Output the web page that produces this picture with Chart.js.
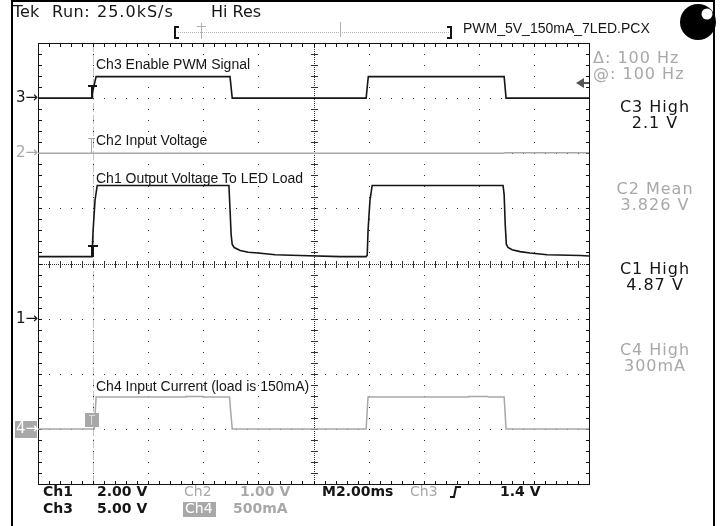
<!DOCTYPE html>
<html>
<head>
<meta charset="utf-8">
<script src="https://cdn.jsdelivr.net/npm/chart.js@4.4.1/dist/chart.umd.min.js"></script>
<style>
  html, body { margin: 0; padding: 0; background: #fff; }
  #scope { display: block; }
</style>
</head>
<body>
<canvas id="scope" width="722" height="526"></canvas>
<script>
// time base: ms from trigger, 2 ms/div, trigger one division from the left edge
const timeMin = -2;
const timeMax = 18;

// channel setup: volts (or amps) per division, ground marker position in divisions, offset
const channelIds = ["y1", "y2", "y3", "y4"];
const perDiv = [2, 1, 5, 0.5];
const groundDiv = [-1, 2, 3, -3];
const offsets = [0, 3.82, 0, 0];

// Ch1 output voltage to LED load (V)
const ch1Time = [-2, -0.07, -0.04, 0.0, 0.07, 0.15, 4.93, 4.97, 5.01, 5.05, 5.12, 5.34, 5.63, 5.99, 6.61, 7.51, 8.97, 9.91,
  9.95, 9.98, 10.05, 10.13, 14.88, 14.92, 14.96, 15.0, 15.06, 15.21, 15.5, 15.86, 16.48, 17.68, 18];
const ch1Volts = [2.25, 2.25, 2.3, 3.2, 4.3, 4.83, 4.83, 3.96, 3.05, 2.69, 2.58, 2.47, 2.41, 2.38, 2.32, 2.29, 2.25, 2.25,
  2.3, 3.2, 4.3, 4.83, 4.83, 4.5, 3.4, 2.7, 2.58, 2.5, 2.43, 2.38, 2.32, 2.29, 2.27];

// Ch2 input voltage (V)
const ch2Time = [-2, 14.9, 14.95, 18];
const ch2Volts = [3.82, 3.82, 3.828, 3.828];

// Ch3 enable PWM signal (V)
const ch3Time = [-2, -0.07, -0.04, 0.04, 0.11, 4.97, 5.05, 9.91, 9.95, 9.99, 14.92, 14.99, 18];
const ch3Volts = [0, 0, 0.3, 1.2, 1.95, 1.95, 0, 0, 1.0, 1.95, 1.95, 0, 0];

// Ch4 input current (A)
const ch4Time = [-2, 0.04, 0.11, 3.34, 3.36, 3.97, 3.99, 4.95, 5.05, 9.91, 9.98, 13.61, 13.63, 14.32, 14.34, 14.92, 14.99, 18];
const ch4Amps = [0, 0, 0.29, 0.29, 0.294, 0.294, 0.29, 0.29, 0, 0, 0.29, 0.29, 0.294, 0.294, 0.29, 0.29, 0, 0];

const traceLabels = ["Ch3 Enable PWM Signal", "Ch2 Input Voltage", "Ch1 Output Voltage To LED Load", "Ch4 Input Current (load is 150mA)"];
const readoutNames = ["C3 High", "C2 Mean", "C1 High", "C4 High"];
const readoutValues = ["2.1 V", "3.826 V", "4.87 V", "300mA"];
const triggerLevel = 1.4;

const BLACK = "#151515";
const GRAY = "#a8a8a8";

function pts(ts, vs) {
  return ts.map((t, i) => ({ x: t, y: vs[i] }));
}

function chanScale(i) {
  return {
    axis: "y",
    type: "linear",
    display: false,
    min: offsets[i] + (-4 - groundDiv[i]) * perDiv[i],
    max: offsets[i] + (4 - groundDiv[i]) * perDiv[i]
  };
}

function txt(ctx, s, x, y, font, color, align, spacing) {
  ctx.font = font;
  ctx.fillStyle = color;
  ctx.textAlign = align || "left";
  ctx.textBaseline = "middle";
  ctx.letterSpacing = spacing || "0px";
  ctx.fillText(s, x, y);
}

const scopeFrame = {
  id: "scopeFrame",
  beforeDatasetsDraw(chart) {
    const ctx = chart.ctx;
    const xs = chart.scales.x, ys = chart.scales.yDiv;
    const a = chart.chartArea;
    const px = d => Math.round(xs.getPixelForValue(timeMin + d * 2));
    const py = d => Math.round(ys.getPixelForValue(-4 + d));
    ctx.save();

    // trigger position cursor
    const tx = Math.round(xs.getPixelForValue(0)) + 0.5;
    ctx.strokeStyle = "#c4c4c4";
    ctx.lineWidth = 1;
    ctx.setLineDash([9, 3]);
    ctx.beginPath();
    ctx.moveTo(tx, a.top);
    ctx.lineTo(tx, a.bottom);
    ctx.stroke();
    ctx.setLineDash([]);

    ctx.fillStyle = "#333";
    // dotted major lines
    for (let i = 1; i < 10; i++) {
      if (i === 5) continue;
      const x = px(i);
      for (let k = 0; k <= 40; k++) ctx.fillRect(x, py(k * 0.2), 1, 1);
    }
    for (let j = 1; j < 8; j++) {
      if (j === 4) continue;
      const y = py(j);
      for (let k = 0; k <= 50; k++) ctx.fillRect(px(k * 0.2), y, 1, 1);
    }
    // centre crosshair with ticks
    const cx = px(5), cy = py(4);
    for (let x = a.left; x < a.right; x += 2) ctx.fillRect(x, cy, 1, 1);
    for (let y = a.top; y < a.bottom; y += 2) ctx.fillRect(cx, y, 1, 1);
    for (let k = 0; k <= 50; k++) ctx.fillRect(px(k * 0.2), cy - 3, 1, 7);
    for (let k = 0; k <= 40; k++) ctx.fillRect(cx - 3, py(k * 0.2), 7, 1);

    // frame and edge ticks
    ctx.fillStyle = "#111";
    const L = Math.round(a.left), R = Math.round(a.right), T = Math.round(a.top), B = Math.round(a.bottom);
    ctx.fillRect(L, T, R - L + 1, 1);
    ctx.fillRect(L, B, R - L + 1, 1);
    ctx.fillRect(L, T, 1, B - T + 1);
    ctx.fillRect(R, T, 1, B - T + 1);
    for (let k = 0; k <= 50; k++) {
      const x = px(k * 0.2);
      ctx.fillRect(x, T, 1, 4);
      ctx.fillRect(x, B - 3, 1, 4);
    }
    for (let k = 0; k <= 40; k++) {
      const y = py(k * 0.2);
      ctx.fillRect(L, y, 4, 1);
      ctx.fillRect(R - 3, y, 4, 1);
    }
    ctx.restore();
  },
  afterDraw(chart) {
    const ctx = chart.ctx;
    const xs = chart.scales.x;
    const gy = i => Math.round(chart.scales[channelIds[i]].getPixelForValue(offsets[i]));
    const x0 = Math.round(xs.getPixelForValue(0));
    ctx.save();

    // trigger point markers
    ctx.fillStyle = BLACK;
    const c3 = gy(2);
    ctx.fillRect(x0 - 5, c3 - 13, 9, 2);
    ctx.fillRect(x0 - 2, c3 - 13, 2, 13);
    const c1 = Math.round(chart.scales.y1.getPixelForValue(ch1Volts[0]));
    ctx.fillRect(x0 - 5, c1 - 12, 10, 2);
    ctx.fillRect(x0 - 2, c1 - 12, 3, 12);
    ctx.fillStyle = GRAY;
    const c2 = gy(1);
    ctx.fillRect(x0 - 5, c2 - 15, 7, 1);
    ctx.fillRect(x0 - 2, c2 - 15, 1, 15);
    const c4 = gy(3);
    ctx.fillRect(x0 - 8, c4 - 16, 14, 14);
    ctx.fillStyle = "#dcdcdc";
    ctx.fillRect(x0 - 4, c4 - 14, 6, 1);
    ctx.fillRect(x0 - 2, c4 - 14, 1, 10);

    // trace labels
    const lf = "14px 'Liberation Sans', Arial, sans-serif";
    const lx = x0 + 3;
    txt(ctx, traceLabels[0], lx, 65, lf, BLACK);
    txt(ctx, traceLabels[1], lx, 141, lf, BLACK);
    txt(ctx, traceLabels[2], lx, 179, lf, BLACK);
    txt(ctx, traceLabels[3], lx, 387, lf, BLACK);

    // channel ground markers
    const mf = "15px 'DejaVu Sans', sans-serif";
    txt(ctx, "3\u2192", 16, gy(2), mf, BLACK);
    txt(ctx, "2\u2192", 16, gy(1), mf, GRAY);
    txt(ctx, "1\u2192", 16, gy(0), mf, BLACK);
    ctx.fillStyle = GRAY;
    ctx.fillRect(15, gy(3) - 8, 22, 17);
    txt(ctx, "4\u2192", 16, gy(3), mf, "#fff");

    // trigger level arrow
    const ty = Math.round(chart.scales.y3.getPixelForValue(triggerLevel));
    ctx.fillStyle = "#555";
    ctx.beginPath();
    ctx.moveTo(576, ty);
    ctx.lineTo(584, ty - 5);
    ctx.lineTo(584, ty + 5);
    ctx.closePath();
    ctx.fill();
    ctx.fillRect(584, ty - 1, 5, 2);

    // header
    const hf = "16px 'DejaVu Sans', sans-serif";
    txt(ctx, "Tek", 13, 13, hf, BLACK);
    txt(ctx, "Run:", 52, 13, hf, BLACK, "left", "0.5px");
    txt(ctx, "25.0kS/s", 97, 13, hf, BLACK, "left", "1px");
    txt(ctx, "Hi Res", 211, 13, hf, BLACK);

    // record bar
    ctx.fillStyle = BLACK;
    ctx.fillRect(174, 26, 2, 13);
    ctx.fillRect(174, 26, 5, 2);
    ctx.fillRect(174, 37, 5, 2);
    ctx.fillRect(450, 26, 2, 13);
    ctx.fillRect(447, 26, 5, 2);
    ctx.fillRect(447, 37, 5, 2);
    ctx.fillStyle = "#b0b0b0";
    for (let x = 178; x < 449; x += 2) ctx.fillRect(x, 32, 1, 1);
    ctx.fillRect(201, 23, 1, 16);
    ctx.fillRect(197, 26, 9, 1);
    ctx.fillRect(340, 22, 1, 15);
    txt(ctx, "PWM_5V_150mA_7LED.PCX", 463, 29, lf, BLACK);

    // right-hand readouts
    const rf = "16px 'DejaVu Sans', sans-serif";
    txt(ctx, "\u0394: 100 Hz", 593, 59, rf, GRAY, "left", "1px");
    txt(ctx, "@: 100 Hz", 593, 75, rf, GRAY, "left", "1px");
    const ry = [108, 190, 270, 351];
    const rc = [BLACK, GRAY, BLACK, GRAY];
    readoutNames.forEach((n, i) => {
      txt(ctx, n, 655, ry[i], rf, rc[i], "center", "1px");
      txt(ctx, readoutValues[i], 655, ry[i] + 16, rf, rc[i], "center", "1px");
    });

    // bottom settings
    const bf = "bold 14px 'DejaVu Sans', sans-serif";
    const bg = "14px 'DejaVu Sans', sans-serif";
    txt(ctx, "Ch1", 43, 492, bf, BLACK);
    txt(ctx, "2.00 V", 97, 492, bf, BLACK);
    txt(ctx, "Ch2", 184, 492, bg, GRAY);
    txt(ctx, "1.00 V", 240, 492, bf, GRAY);
    txt(ctx, "M2.00ms", 322, 492, bf, BLACK);
    txt(ctx, "Ch3", 410, 492, bg, GRAY);
    txt(ctx, "1.4 V", 500, 492, bf, BLACK);
    txt(ctx, "Ch3", 43, 509, bf, BLACK);
    txt(ctx, "5.00 V", 97, 509, bf, BLACK);
    ctx.fillStyle = GRAY;
    ctx.fillRect(183, 502, 33, 15);
    txt(ctx, "Ch4", 185, 509, bg, "#fff");
    txt(ctx, "500mA", 233, 509, bf, GRAY);
    ctx.strokeStyle = BLACK;
    ctx.lineWidth = 2;
    ctx.beginPath();
    ctx.moveTo(450, 497);
    ctx.lineTo(454, 497);
    ctx.lineTo(456, 487);
    ctx.lineTo(461, 487);
    ctx.stroke();

    // status dot
    ctx.fillStyle = "#000";
    ctx.beginPath();
    ctx.arc(698, 22, 18, 0, Math.PI * 2);
    ctx.fill();
    ctx.fillStyle = "#fff";
    ctx.beginPath();
    ctx.arc(707, 14, 5.5, 0, Math.PI * 2);
    ctx.fill();

    // outer screen frame
    ctx.fillStyle = "#000";
    ctx.fillRect(11, 0, 2, 526);
    ctx.fillRect(713, 0, 2, 526);
    ctx.fillRect(11, 0, 704, 2);
    ctx.restore();
  }
};

const scales = {
  x: { type: "linear", min: timeMin, max: timeMax, display: false },
  yDiv: { axis: "y", type: "linear", min: -4, max: 4, display: false }
};
channelIds.forEach((id, i) => { scales[id] = chanScale(i); });

new Chart(document.getElementById("scope").getContext("2d"), {
  type: "line",
  data: {
    datasets: [
      { label: "Ch1", data: pts(ch1Time, ch1Volts), yAxisID: "y1", borderColor: BLACK, borderWidth: 1.6 },
      { label: "Ch3", data: pts(ch3Time, ch3Volts), yAxisID: "y3", borderColor: BLACK, borderWidth: 1.6 },
      { label: "Ch2", data: pts(ch2Time, ch2Volts), yAxisID: "y2", borderColor: GRAY, borderWidth: 1.5 },
      { label: "Ch4", data: pts(ch4Time, ch4Amps), yAxisID: "y4", borderColor: GRAY, borderWidth: 1.5 }
    ]
  },
  options: {
    responsive: false,
    animation: false,
    layout: { padding: { left: 38, right: 133, top: 43, bottom: 42 } },
    elements: { point: { radius: 0 }, line: { tension: 0, fill: false } },
    plugins: { legend: { display: false }, tooltip: { enabled: false } },
    scales: scales
  },
  plugins: [scopeFrame]
});
</script>
</body>
</html>
